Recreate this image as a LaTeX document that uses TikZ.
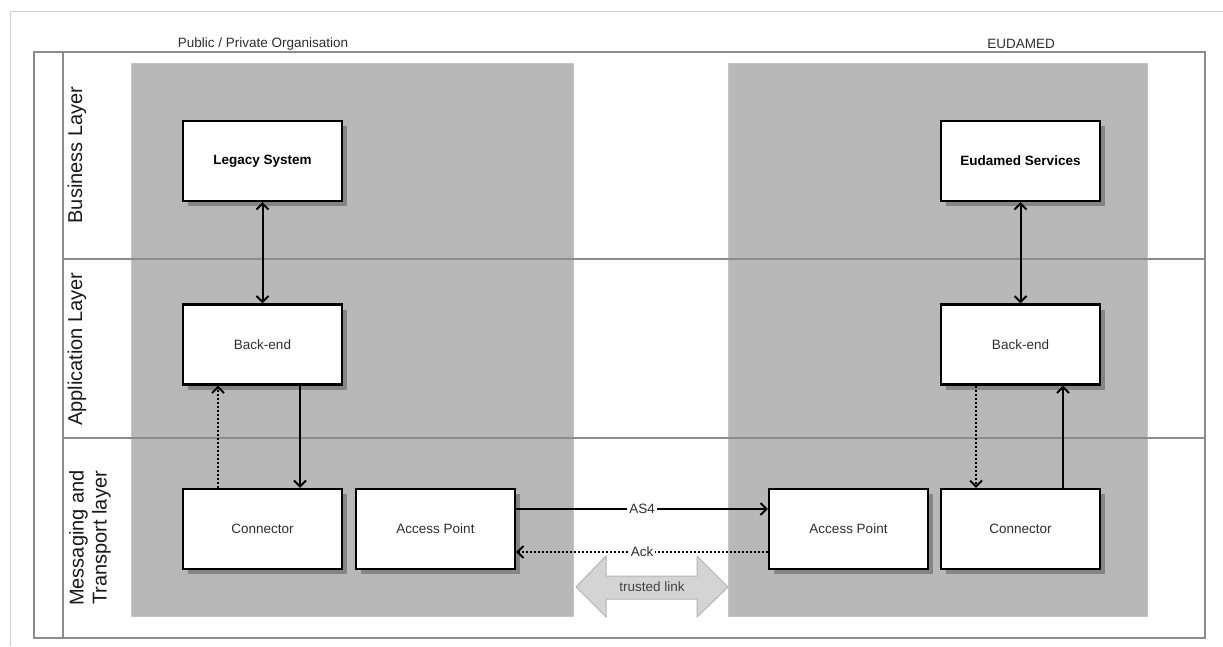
\documentclass[tikz,border=0pt]{standalone}
\usepackage{fontspec}
\setmainfont{Liberation Sans}
\usepackage{xcolor}
\usepackage{tikz}
\usetikzlibrary{arrows.meta,shadows}
\definecolor{eink}{HTML}{2E2E2E}
\definecolor{elane}{HTML}{8C8C8C}
\definecolor{eframe}{HTML}{D0D0D0}
\definecolor{ezone}{HTML}{B8B8B8}
\definecolor{ezoneedge}{HTML}{C4C4C4}
\definecolor{eshade}{HTML}{858585}
\definecolor{elink}{HTML}{D4D4D4}
\definecolor{elinkedge}{HTML}{B4B4B4}

\begin{document}
\begin{tikzpicture}[x=1pt,y=-1pt,
  every node/.style={font=\fontsize{13.5}{16}\selectfont,text=eink},
  box/.style={draw=black,line width=2.2pt,fill=white,minimum width=159pt,minimum height=80pt,inner sep=0pt,
    drop shadow={shadow xshift=5pt,shadow yshift=-5pt,fill=eshade,opacity=1}},
  lanetext/.style={rotate=90,font=\fontsize{20}{23}\selectfont,text=black!90,align=center},
  >={Straight Barb[length=6pt,width=12pt]},
  flow/.style={line width=2pt,black},
  ackflow/.style={flow,dash pattern=on 2pt off 2pt},
  tag/.style={fill=white,inner sep=2pt}]
  \fill[white] (0,0) rectangle (1223,646);
  \useasboundingbox (0,0) rectangle (1223,646);

  % page frame and pool with lanes
  \draw[eframe,line width=1pt] (10,646) -- (10,11) -- (1223,11);
  \draw[elane,line width=1.4pt] (34,52) rectangle (1205,638);
  \draw[elane,line width=1.4pt] (63,52) -- (63,638);

  % the two parties
  \fill[ezone,draw=ezoneedge,line width=0.8pt] (131,63) rectangle (573,616);
  \fill[ezone,draw=ezoneedge,line width=0.8pt] (728,63) rectangle (1147,616);
  \draw[elane,line width=1.4pt] (63,259) -- (1205,259);
  \draw[elane,line width=1.4pt] (63,438) -- (1205,438);

  \node (orgL) at (263,44) {Public / Private Organisation};
  \node (orgR) at (1021,44) {EUDAMED};

  \node[lanetext] (laneBiz) at (77,155) {Business Layer};
  \node[lanetext] (laneApp) at (77,349) {Application Layer};
  \node[lanetext] (laneMsg) at (90,538) {Messaging and\\Transport layer};

  % boxes
  \node[box] (legacy) at (262.5,161) {\textbf{\color{black}Legacy System}};
  \node[box] (eudamed) at (1020.5,161) {\textbf{\color{black}Eudamed Services}};
  \node[box] (backL) at (262.5,344.5) {Back-end};
  \node[box] (backR) at (1020.5,344.5) {Back-end};
  \node[box] (connL) at (262.5,529) {Connector};
  \node[box] (apL) at (435.5,529) {Access Point};
  \node[box] (apR) at (848.5,529) {Access Point};
  \node[box] (connR) at (1020.5,529) {Connector};

  % links
  \draw[flow,<->] (legacy) -- (backL);
  \draw[flow,<->] (eudamed) -- (backR);
  \draw[ackflow,->] ([xshift=-44.5pt]connL.north) -- ([xshift=-44.5pt]backL.south);
  \draw[flow,->] ([xshift=37.5pt]backL.south) -- ([xshift=37.5pt]connL.north);
  \draw[ackflow,->] ([xshift=-44.5pt]backR.south) -- ([xshift=-44.5pt]connR.north);
  \draw[flow,->] ([xshift=42.5pt]connR.north) -- ([xshift=42.5pt]backR.south);
  \draw[flow,->] ([yshift=20pt]apL.east) -- node[tag] {AS4} ([yshift=20pt]apR.west);
  \draw[ackflow,->] ([yshift=-23pt]apR.west) -- node[tag] {Ack} ([yshift=-23pt]apL.west -| apL.east);

  % trusted link
  \draw[elinkedge,fill=elink,line width=1pt] (576,587) -- (606,556) -- (606,576) -- (697,576) -- (697,556)
    -- (728,587) -- (697,617) -- (697,599) -- (606,599) -- (606,617) -- cycle;
  \node[text=eink!90] (trust) at (652,587) {trusted link};
\end{tikzpicture}
\end{document}
